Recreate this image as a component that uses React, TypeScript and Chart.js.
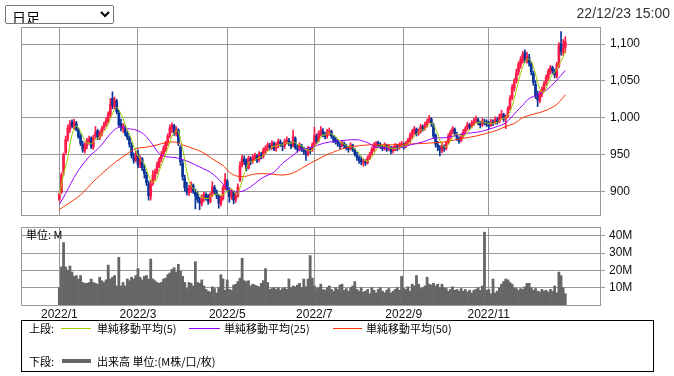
import React, { useEffect, useRef } from "react";
import { Chart, registerables } from "chart.js";
Chart.register(...registerables);

// ---- data ----
const monthTickIdx = [0, 37, 79, 120, 162, 202];
const monthTickLabels = ["2022/1", "2022/3", "2022/5", "2022/7", "2022/9", "2022/11"];
const priceTicks = [900, 950, 1000, 1050, 1100];
const volumeTicks = [10, 20, 30, 40];

const opens = [
  889, 899, 926, 953, 972, 984, 994, 988, 992, 983,
  975, 964, 955, 962, 968, 972, 960, 975, 982, 973,
  978, 986, 991, 995, 1004, 1026, 1015, 1022, 1006, 992,
  985, 986, 979, 972, 962, 946, 943, 951, 935, 944,
  930, 922, 910, 893, 911, 920, 927, 935, 944, 951,
  957, 966, 976, 985, 989, 978, 983, 960, 938, 918,
  904, 898, 903, 908, 899, 895, 888, 883, 890, 895,
  893, 886, 896, 905, 898, 893, 883, 890, 904, 914,
  902, 892, 899, 889, 894, 915, 936, 944, 941, 932,
  944, 941, 945, 948, 943, 950, 948, 955, 960, 962,
  960, 965, 958, 962, 967, 963, 962, 967, 969, 964,
  962, 972, 959, 958, 962, 956, 953, 951, 957, 956,
  964, 975, 969, 978, 982, 976, 975, 980, 981, 974,
  970, 968, 963, 962, 965, 961, 958, 958, 962, 956,
  950, 945, 943, 939, 940, 939, 946, 951, 956, 962,
  966, 962, 960, 959, 962, 958, 959, 955, 957, 961,
  959, 962, 964, 961, 966, 968, 975, 980, 984, 979,
  981, 987, 986, 990, 996, 998, 990, 976, 963, 959,
  955, 961, 959, 967, 974, 981, 984, 977, 971, 969,
  976, 981, 986, 990, 988, 992, 996, 997, 992, 991,
  995, 994, 990, 990, 994, 993, 997, 995, 1000, 1004,
  999, 1002, 1012, 1027, 1040, 1050, 1062, 1071, 1078, 1088,
  1078, 1082, 1073, 1060, 1045, 1031, 1023, 1032, 1038, 1047,
  1054, 1062, 1068, 1063, 1056, 1070, 1100, 1089, 1095,
];
const highs = [
  898, 925, 952, 975, 990, 996, 997, 998, 995, 986,
  978, 968, 966, 972, 975, 974, 976, 988, 984, 982,
  988, 994, 1000, 1008, 1026, 1035, 1028, 1025, 1010, 998,
  992, 990, 982, 975, 966, 952, 955, 956, 948, 946,
  936, 926, 914, 915, 928, 930, 940, 946, 954, 962,
  968, 978, 990, 993, 991, 988, 985, 962, 942, 922,
  912, 908, 913, 910, 903, 900, 892, 895, 899, 898,
  896, 898, 913, 908, 902, 896, 894, 908, 924, 916,
  905, 903, 901, 898, 910, 940, 949, 948, 944, 948,
  947, 950, 952, 950, 954, 953, 959, 962, 966, 965,
  969, 967, 966, 971, 970, 966, 971, 974, 972, 967,
  983, 974, 963, 966, 964, 960, 957, 961, 960, 966,
  987, 978, 982, 988, 985, 980, 984, 986, 983, 976,
  973, 970, 966, 969, 967, 964, 961, 966, 964, 958,
  953, 948, 947, 944, 943, 948, 953, 960, 966, 968,
  968, 966, 963, 966, 964, 963, 961, 961, 965, 964,
  966, 968, 966, 968, 972, 979, 984, 988, 986, 985,
  991, 990, 994, 998, 1003, 1000, 992, 978, 968, 962,
  966, 963, 968, 978, 983, 988, 986, 980, 974, 978,
  984, 988, 994, 992, 996, 999, 1002, 999, 995, 999,
  998, 997, 995, 998, 997, 1001, 1000, 1005, 1010, 1006,
  1004, 1015, 1030, 1045, 1053, 1066, 1076, 1083, 1090, 1092,
  1089, 1086, 1076, 1063, 1050, 1036, 1036, 1042, 1049, 1058,
  1066, 1071, 1070, 1066, 1075, 1102, 1117, 1106, 1110,
];
const lows = [
  887, 897, 922, 950, 968, 980, 986, 984, 982, 972,
  962, 953, 952, 958, 964, 958, 957, 972, 970, 970,
  975, 983, 988, 992, 1000, 1012, 1012, 1005, 988, 982,
  980, 975, 970, 960, 945, 938, 940, 932, 932, 928,
  918, 908, 888, 888, 908, 915, 924, 932, 940, 948,
  954, 962, 973, 980, 976, 975, 962, 935, 915, 900,
  895, 894, 898, 897, 876, 885, 875, 880, 886, 888,
  882, 884, 893, 896, 890, 877, 880, 888, 902, 900,
  885, 889, 883, 885, 892, 913, 933, 936, 928, 930,
  936, 938, 942, 939, 940, 944, 945, 951, 955, 956,
  957, 955, 954, 959, 961, 955, 958, 964, 962, 958,
  960, 957, 953, 955, 954, 950, 942, 948, 951, 954,
  962, 965, 967, 975, 974, 971, 972, 976, 972, 966,
  964, 961, 958, 960, 959, 956, 953, 956, 954, 948,
  942, 938, 936, 934, 935, 937, 943, 949, 954, 959,
  960, 958, 955, 956, 954, 955, 951, 952, 955, 955,
  957, 960, 957, 959, 962, 966, 972, 977, 975, 976,
  979, 982, 983, 987, 993, 988, 972, 960, 955, 948,
  952, 954, 956, 964, 971, 978, 975, 969, 965, 967,
  973, 978, 983, 984, 986, 989, 993, 990, 986, 988,
  990, 988, 985, 988, 989, 991, 991, 993, 998, 995,
  985, 1000, 1010, 1024, 1036, 1047, 1058, 1067, 1074, 1075,
  1074, 1070, 1058, 1044, 1026, 1015, 1020, 1028, 1035, 1044,
  1051, 1059, 1060, 1054, 1054, 1068, 1085, 1084, 1088,
];
const closes = [
  896, 922, 950, 970, 986, 992, 989, 994, 984, 974,
  965, 957, 963, 969, 971, 961, 973, 980, 974, 979,
  985, 990, 996, 1005, 1018, 1016, 1024, 1008, 990, 986,
  988, 978, 973, 964, 948, 942, 950, 936, 945, 932,
  924, 912, 894, 910, 922, 926, 936, 943, 950, 958,
  965, 975, 986, 990, 979, 984, 966, 940, 920, 905,
  899, 904, 909, 900, 894, 889, 884, 891, 896, 892,
  887, 895, 906, 899, 894, 884, 891, 905, 916, 903,
  893, 900, 888, 895, 906, 935, 945, 940, 931, 945,
  940, 946, 949, 942, 951, 947, 956, 959, 963, 959,
  966, 957, 963, 968, 964, 961, 968, 970, 965, 961,
  974, 960, 957, 963, 957, 954, 950, 958, 955, 963,
  976, 968, 979, 983, 977, 974, 981, 982, 975, 969,
  967, 964, 961, 966, 962, 959, 957, 963, 957, 951,
  946, 942, 940, 941, 938, 945, 950, 957, 963, 965,
  963, 961, 958, 963, 957, 960, 954, 958, 962, 958,
  963, 965, 960, 965, 969, 976, 981, 985, 978, 982,
  988, 985, 991, 995, 999, 992, 975, 964, 960, 956,
  962, 958, 966, 975, 980, 985, 978, 972, 968, 975,
  980, 985, 991, 987, 993, 995, 998, 993, 990, 996,
  993, 991, 989, 995, 992, 998, 994, 1001, 1005, 998,
  1001, 1012, 1026, 1041, 1049, 1061, 1072, 1079, 1086, 1079,
  1083, 1074, 1062, 1048, 1030, 1024, 1033, 1039, 1046, 1055,
  1063, 1068, 1064, 1058, 1072, 1098, 1090, 1094, 1103,
];
const volumes = [
  10, 22, 36, 22, 20, 22.5, 19, 16.5, 17, 15,
  17, 13, 12.5, 12.5, 13, 15, 13, 12.5, 12, 16,
  14, 13, 14.5, 23, 15, 16, 17, 11, 27.5, 11,
  13, 11, 15, 14, 16, 15, 17, 21, 16, 14.5,
  16.5, 17, 15, 26.5, 15, 14, 13, 12.5, 13, 15,
  15.5, 17.5, 18.5, 20.5, 21.5, 19, 23.5, 19.5, 16.5, 13,
  9.5, 13, 12.5, 11, 25, 13, 12.5, 14.5, 11, 9,
  8, 7.5, 10.5, 9.5, 7, 10, 17.5, 15, 8.5, 14.5,
  9, 8.5, 11.5, 12, 13.5, 15.5, 27, 14, 13.5, 14,
  11, 12, 11.5, 11, 10.5, 12.5, 14, 21, 13, 9,
  9.5, 10, 9, 10, 8.5, 9.5, 10, 9, 15, 10,
  11, 10.5, 11.5, 12.5, 10, 15, 10.5, 15, 28.5, 15.5,
  11, 9.5, 10, 12, 9, 8.5, 10, 11, 9, 8,
  10, 9, 11.5, 12, 8.5, 9.5, 8, 10, 11, 13.5,
  9, 8, 10, 7.5, 8, 9, 6.5, 10, 8.5, 7,
  9, 10, 8, 7, 8.5, 9.5, 7, 8, 9, 10,
  8.5, 16.5, 9.5, 9, 10.5, 8, 12, 11, 17, 12,
  9.5, 10, 11, 16, 12, 11.5, 12.5, 11, 12, 10,
  12, 10, 9.5, 8, 9, 10.5, 8.5, 9, 8, 9.5,
  8, 9, 7.5, 8.5, 7, 8.5, 9, 10, 8.5, 11,
  42, 8.5, 9, 6.5, 15, 7, 8, 10, 12, 13.5,
  15, 14.5, 13, 12, 10, 9.5, 8.5, 9.5, 9, 10.5,
  12.5, 12.5, 10, 8.5, 9.5, 8, 7.5, 9, 8, 8.5,
  7.5, 9, 8, 11, 7, 19, 17, 10, 6.5,
];
// moving averages (day index, value)
const ma25Idx = [0, 3, 8, 14, 19, 24, 28, 32, 35, 38, 41, 44, 47, 50, 54, 57, 61, 66, 71, 74, 77, 80, 83, 86, 90, 93, 96, 101, 105, 110, 113, 118, 124, 130, 140, 145, 149, 155, 160, 165, 171, 176, 182, 190, 198, 206, 210, 215, 218, 221, 225, 229, 234, 238];
const ma25Val = [882, 897, 924, 947, 960, 978, 987, 985, 984, 981, 974, 963, 951, 947, 946, 944, 940, 933, 926, 919, 910, 902, 899, 900, 906, 913, 919, 926, 938, 949, 956, 959, 965, 968, 970, 966, 960, 959, 959, 963, 967, 972, 973, 978, 981, 988, 993, 1008, 1017, 1026, 1031, 1037, 1051, 1064];
const ma50Idx = [0, 3, 10, 16, 22, 27, 32, 36, 41, 46, 50, 54, 58, 63, 68, 72, 77, 80, 83, 87, 91, 96, 101, 105, 110, 115, 120, 127, 135, 145, 155, 163, 171, 181, 190, 196, 206, 210, 214, 218, 221, 226, 229, 234, 238];
const ma50Val = [875, 881, 895, 913, 929, 941, 951, 958, 960, 963, 966, 967, 963, 958, 952, 944, 935, 926, 921, 920, 923, 924, 923, 922, 925, 933, 941, 951, 959, 963, 963, 964, 965, 967, 972, 975, 983, 988, 992, 1000, 1003, 1007, 1010, 1018, 1031];

// ---- styles ----
const UP = "#ff1a48";
const DOWN = "#0a3399";
const C_MA5 = "#99cc00";
const C_MA25 = "#9900ff";
const C_MA50 = "#ff3300";
const GRID = "#999999";
const X_MIN = -18.02;
const X_MAX = 254.33;
const TICK_FONT = { family: "'Liberation Sans', Arial, sans-serif", size: 12 };

const framePlugin = {
  id: "frame",
  beforeDatasetsDraw(chart: any) {
    const { ctx, chartArea: a } = chart;
    ctx.save();
    ctx.strokeStyle = GRID;
    ctx.lineWidth = 1;
    ctx.strokeRect(Math.round(a.left) + 0.5, Math.round(a.top) + 0.5, Math.round(a.right - a.left), Math.round(a.bottom - a.top));
    ctx.restore();
  },
};

const fixSize = (w: number | null, h: number | null) => (s: any) => {
  if (w !== null) s.width = w;
  if (h !== null) s.height = h;
  s.paddingTop = 0;
  s.paddingBottom = 0;
  s.paddingLeft = 0;
  s.paddingRight = 0;
};

export default function App() {
  const priceRef = useRef<HTMLCanvasElement>(null);
  const volRef = useRef<HTMLCanvasElement>(null);

  useEffect(() => {
    const ma5 = closes.map((_, i) => {
      const s = closes.slice(Math.max(0, i - 4), i + 1);
      return s.reduce((a, b) => a + b, 0) / s.length;
    });
    const colors = closes.map((c, i) => (c >= opens[i] ? UP : DOWN));

    const pc = new Chart(priceRef.current!, {
      type: "bar",
      data: {
        datasets: [
          {
            type: "line",
            data: ma5.map((v, i) => ({ x: i, y: v })),
            borderColor: C_MA5,
            borderWidth: 1,
            pointRadius: 0,
            tension: 0,
            order: 0,
          } as any,
          {
            type: "line",
            data: ma25Idx.map((x, k) => ({ x, y: ma25Val[k] })),
            borderColor: C_MA25,
            borderWidth: 1,
            pointRadius: 0,
            tension: 0.3,
            order: 1,
          },
          {
            type: "line",
            data: ma50Idx.map((x, k) => ({ x, y: ma50Val[k] })),
            borderColor: C_MA50,
            borderWidth: 1,
            pointRadius: 0,
            tension: 0.3,
            order: 2,
          },
          {
            type: "bar",
            data: closes.map((c, i) => ({ x: i, y: [Math.min(opens[i], c), Math.max(opens[i], c)] })),
            backgroundColor: colors,
            barThickness: 2,
            grouped: false,
            minBarLength: 1,
            order: 3,
          },
          {
            type: "bar",
            data: closes.map((_, i) => ({ x: i, y: [lows[i], highs[i]] })),
            backgroundColor: colors,
            barThickness: 1,
            grouped: false,
            order: 4,
          },
        ] as any,
      },
      options: {
        responsive: false,
        animation: false,
        events: [],
        layout: { padding: { left: 21, top: 27, right: 0, bottom: 0 } },
        plugins: { legend: { display: false }, tooltip: { enabled: false } },
        scales: {
          x: {
            type: "linear",
            min: X_MIN,
            max: X_MAX,
            offset: false,
            afterBuildTicks: (s: any) => {
              s.ticks = monthTickIdx.map((v) => ({ value: v }));
            },
            ticks: { display: false },
            grid: { color: GRID, drawTicks: false, offset: false },
            border: { display: false },
            afterFit: fixSize(null, 7),
          },
          y: {
            position: "right",
            min: 867.8,
            max: 1123.1,
            afterBuildTicks: (s: any) => {
              s.ticks = priceTicks.map((v) => ({ value: v }));
            },
            ticks: {
              callback: (v: any) => Number(v).toLocaleString("en-US"),
              font: TICK_FONT,
              color: "#111",
              padding: 5,
            },
            grid: { color: GRID, tickLength: 5 },
            border: { display: false },
            afterFit: fixSize(74, null),
          },
        } as any,
      },
      plugins: [framePlugin],
    });

    const vc = new Chart(volRef.current!, {
      type: "bar",
      data: {
        datasets: [
          {
            data: volumes.map((v, i) => ({ x: i, y: v })),
            backgroundColor: "#666666",
            barPercentage: 1,
            categoryPercentage: 1,
          },
        ] as any,
      },
      options: {
        responsive: false,
        animation: false,
        events: [],
        layout: { padding: { left: 21, top: 5, right: 0, bottom: 0 } },
        plugins: { legend: { display: false }, tooltip: { enabled: false } },
        scales: {
          x: {
            type: "linear",
            min: X_MIN,
            max: X_MAX,
            offset: false,
            afterBuildTicks: (s: any) => {
              s.ticks = monthTickIdx.map((v) => ({ value: v }));
            },
            ticks: {
              callback: (_v: any, idx: number) => monthTickLabels[idx],
              font: TICK_FONT,
              color: "#111",
              padding: 2,
              autoSkip: false,
              maxRotation: 0,
            },
            grid: { color: GRID, drawTicks: false, offset: false },
            border: { display: false },
            afterFit: fixSize(null, 17),
          },
          y: {
            position: "right",
            min: 0,
            max: 45,
            afterBuildTicks: (s: any) => {
              s.ticks = volumeTicks.map((v) => ({ value: v }));
            },
            ticks: {
              callback: (v: any) => v + "M",
              font: TICK_FONT,
              color: "#111",
              padding: 4,
            },
            grid: { color: GRID, tickLength: 5 },
            border: { display: false },
            afterFit: fixSize(74, null),
          },
        } as any,
      },
      plugins: [framePlugin],
    });

    return () => {
      pc.destroy();
      vc.destroy();
    };
  }, []);

  const jp = "'Noto Sans CJK JP', sans-serif";
  const txt = (left: number, cy: number, s: string) => (
    <span
      style={{
        position: "absolute",
        left,
        top: cy - 7,
        height: 14,
        lineHeight: "14px",
        fontSize: 11,
        fontFamily: jp,
        color: "#000",
        whiteSpace: "nowrap",
      }}
    >
      {s}
    </span>
  );
  const line = (left: number, cy: number, w: number, h: number, color: string) => (
    <div style={{ position: "absolute", left, top: cy - h / 2, width: w, height: h, background: color }} />
  );

  return (
    <div
      style={{
        position: "fixed",
        left: 0,
        top: 0,
        width: 674,
        height: 376,
        background: "#fff",
        overflow: "hidden",
      }}
    >
      <canvas ref={priceRef} width={674} height={222} style={{ position: "absolute", left: 0, top: 0, width: 674, height: 222 }} />
      <canvas ref={volRef} width={674} height={100} style={{ position: "absolute", left: 0, top: 222, width: 674, height: 100 }} />
      <select
        style={{
          position: "absolute",
          left: 5,
          top: 5,
          width: 109,
          height: 19,
          fontSize: 14,
          fontFamily: jp,
          padding: "0 2px",
          boxSizing: "border-box",
        }}
        defaultValue="d"
      >
        <option value="d">日足</option>
      </select>
      <div
        style={{
          position: "absolute",
          right: 4,
          top: 5,
          lineHeight: "16px",
          fontSize: 14,
          fontFamily: "'Liberation Sans', Arial, sans-serif",
          color: "#333",
        }}
      >
        22/12/23 15:00
      </div>
      <span
        style={{
          position: "absolute",
          left: 26,
          top: 227,
          lineHeight: "14px",
          fontSize: 11,
          fontFamily: jp,
          color: "#000",
        }}
      >
        単位: M
      </span>
      <div
        style={{
          position: "absolute",
          left: 21,
          top: 320,
          width: 633,
          height: 52,
          border: "1px solid #000",
          boxSizing: "border-box",
        }}
      />
      {txt(29, 328, "上段:")}
      {line(61, 328, 30, 1, C_MA5)}
      {txt(97, 328, "単純移動平均(5)")}
      {line(189, 328, 31, 1, C_MA25)}
      {txt(224, 328, "単純移動平均(25)")}
      {line(333, 328, 29, 1, C_MA50)}
      {txt(366, 328, "単純移動平均(50)")}
      {txt(29, 361, "下段:")}
      {line(62, 361, 29, 4, "#666666")}
      {txt(97, 361, "出来高 単位:(M株/口/枚)")}
    </div>
  );
}
